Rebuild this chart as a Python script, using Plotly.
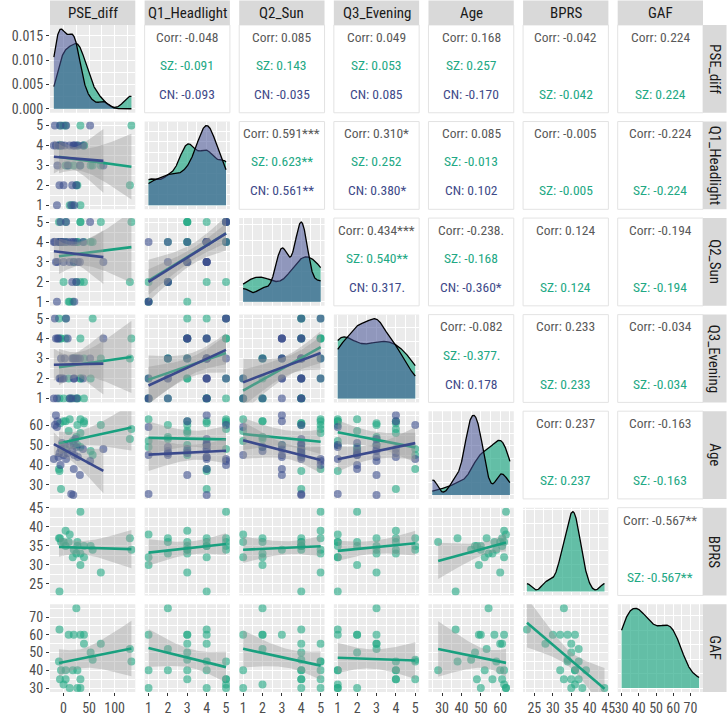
import numpy as np
import plotly.graph_objects as go
from plotly.subplots import make_subplots

FONT = "Roboto Condensed, Liberation Sans Narrow, Roboto, sans-serif"

var_names = ["PSE_diff", "Q1_Headlight", "Q2_Sun", "Q3_Evening", "Age", "BPRS", "GAF"]

# ---- SZ group (24 subjects) ----
sz_pse = [-8, 25, 73, 33, 10, 20, 40, 40, 130, 53, 57, 133, -9, 18, 4, 27, 33, -7, 4, 0, 12, 27, 33, -5]
sz_q1 = [4, 2, 3, 1, 3, 3, 4, 4, 2, 3, 3, 5, 4, 1, 3, 2, 3, 5, 5, 5, 1, 4, 5, 4]
sz_q2 = [4, 2, 5, 2, 1, 3, 2, 4, 2, 4, 4, 5, 5, 1, 5, 4, 5, 4, 4, 2, 1, 4, 5, 4]
sz_q3 = [1, 3, 3, 2, 2, 3, 1, 3, 3, 2, 5, 4, 5, 1, 4, 1, 4, 4, 5, 1, 1, 1, 2, 4]
sz_age = [37, 54, 60, 49, 57, 50, 62, 61, 53, 47, 45, 58, 38, 52, 62, 60, 56, 61, 48, 62, 63, 50, 63, 28]
sz_bprs = [23, 33, 28, 30, 36, 34, 32, 35, 37, 35, 34, 34, 37, 32, 39, 36, 33, 37, 35, 36, 38, 35, 44, 36]
sz_gaf = [63, 75, 55, 60, 60, 60, 60, 55, 52, 50, 46, 45, 45, 40, 40, 40, 35, 35, 35, 32, 30, 30, 30, 40]

# ---- CN group (27 subjects, no BPRS / GAF) ----
cn_pse = [-19, -17, -15, -13, -12, -10, -8, -6, -5, -3, 0, 2, 5, 8, 12, 15, 17, 19, 20, 21, 23, 25, 28, 32, 38, 52, 78]
cn_q1 = [4, 5, 4, 1, 3, 4, 2, 5, 4, 4, 2, 4, 5, 3, 4, 1, 2, 4, 4, 1, 4, 2, 4, 3, 4, 5, 3]
cn_q2 = [4, 4, 3, 1, 3, 4, 4, 5, 4, 4, 3, 4, 5, 4, 3, 4, 2, 4, 3, 1, 4, 2, 3, 3, 4, 5, 3]
cn_q3 = [1, 5, 4, 1, 4, 4, 2, 2, 3, 2, 2, 3, 5, 4, 1, 1, 3, 3, 2, 2, 3, 1, 3, 3, 2, 3, 4]
cn_age = [43, 60, 65, 59, 62, 44, 46, 40, 48, 51, 45, 50, 43, 46, 50, 25.5, 47, 25, 38, 45, 53, 49, 44, 35, 48, 42, 48]

# ---- tick labels ----
major_ticks = {
    "PSE_diff": [0, 50, 100],
    "Q1_Headlight": [1, 2, 3, 4, 5],
    "Q2_Sun": [1, 2, 3, 4, 5],
    "Q3_Evening": [1, 2, 3, 4, 5],
    "Age": [30, 40, 50, 60],
    "BPRS": [25, 30, 35, 40, 45],
    "GAF": [30, 40, 50, 60, 70],
}
minor_ticks = {
    "PSE_diff": [-25, 25, 75, 125],
    "Q1_Headlight": [1.5, 2.5, 3.5, 4.5],
    "Q2_Sun": [1.5, 2.5, 3.5, 4.5],
    "Q3_Evening": [1.5, 2.5, 3.5, 4.5],
    "Age": [25, 35, 45, 55, 65],
    "BPRS": [22.5, 27.5, 32.5, 37.5, 42.5],
    "GAF": [35, 45, 55, 65, 75],
}

# ---- correlation texts (upper triangle, row-major) ----
corr_total = ["-0.048", "0.085", "0.049", "0.168", "-0.042", "0.224",
              "0.591***", "0.310*", "0.085", "-0.005", "-0.224",
              "0.434***", "-0.238.", "0.124", "-0.194",
              "-0.082", "0.233", "-0.034",
              "0.237", "-0.163",
              "-0.567**"]
corr_sz = ["-0.091", "0.143", "0.053", "0.257", "-0.042", "0.224",
           "0.623**", "0.252", "-0.013", "-0.005", "-0.224",
           "0.540**", "-0.168", "0.124", "-0.194",
           "-0.377.", "0.233", "-0.034",
           "0.237", "-0.163",
           "-0.567**"]
corr_cn = ["-0.093", "-0.035", "0.085", "-0.170", None, None,
           "0.561**", "0.380*", "0.102", None, None,
           "0.317.", "-0.360*", None, None,
           "0.178", None, None,
           None, None,
           None]

nan_cn = [np.nan] * len(cn_pse)
data = {
    "SZ": dict(zip(var_names, [np.array(a, float) for a in
                               [sz_pse, sz_q1, sz_q2, sz_q3, sz_age, sz_bprs, sz_gaf]])),
    "CN": dict(zip(var_names, [np.array(a, float) for a in
                               [cn_pse, cn_q1, cn_q2, cn_q3, cn_age, nan_cn, nan_cn]])),
}
groups = ["SZ", "CN"]
pt_col = {"SZ": "rgba(34,168,132,0.6)", "CN": "rgba(59,76,140,0.6)"}
ln_col = {"SZ": "#19a07f", "CN": "#3b4a8c"}
fill_col = {"SZ": "rgba(34,168,132,0.68)", "CN": "rgba(70,82,150,0.55)"}
txt_col = {"SZ": "#22a884", "CN": "#3e4a89"}


def var_range(v):
    vals = np.concatenate([data[g][v] for g in groups])
    vals = vals[~np.isnan(vals)]
    lo, hi = vals.min(), vals.max()
    pad = 0.05 * (hi - lo)
    return [lo - pad, hi + pad], lo, hi


ranges = {v: var_range(v) for v in var_names}


def tq(df):
    z = 1.959964
    g1 = (z ** 3 + z) / 4
    g2 = (5 * z ** 5 + 16 * z ** 3 + 3 * z) / 96
    g3 = (3 * z ** 7 + 19 * z ** 5 + 17 * z ** 3 - 15 * z) / 384
    return z + g1 / df + g2 / df ** 2 + g3 / df ** 3


def kde(x, grid):
    x = x[~np.isnan(x)]
    n = len(x)
    sd = np.std(x, ddof=1)
    q75, q25 = np.percentile(x, [75, 25])
    lo = min(sd, (q75 - q25) / 1.34)
    if lo <= 0:
        lo = sd
    bw = 0.9 * lo * n ** -0.2
    d = np.exp(-0.5 * ((grid[:, None] - x[None, :]) / bw) ** 2).sum(axis=1)
    return d / (n * bw * np.sqrt(2 * np.pi))


def pretty_step(mx):
    raw = mx / 4
    p = 10 ** np.floor(np.log10(raw))
    for m in [1, 2, 2.5, 5, 10]:
        if m * p >= raw:
            return m * p
    return 10 * p


N = 7
fig = make_subplots(rows=N, cols=N, horizontal_spacing=9.5 / 666, vertical_spacing=9 / 684)

shapes = []
annotations = []
tick_font = dict(family=FONT, size=14, color="#4d4d4d")
TXT = 13.5


def refs(r, c):
    k = (r - 1) * N + c
    return ("x" if k == 1 else f"x{k}"), ("y" if k == 1 else f"y{k}")


def add_text(xr, yr, y, text, color):
    annotations.append(dict(xref=f"{xr} domain", yref=f"{yr} domain", x=0.5, y=y,
                            xanchor="center", yanchor="middle", text=text, showarrow=False,
                            font=dict(family=FONT, size=TXT, color=color)))


for r in range(1, N + 1):
    for c in range(1, N + 1):
        xr, yr = refs(r, c)
        vx = var_names[c - 1]
        vy = var_names[r - 1]
        if r < c:
            # upper: correlation text panel
            fig.add_trace(go.Scatter(x=[0.5], y=[0.5], mode="markers",
                                     marker=dict(size=1, opacity=0), hoverinfo="skip"),
                          row=r, col=c)
            shapes.append(dict(type="rect", xref=f"{xr} domain", yref=f"{yr} domain",
                               x0=0, x1=1, y0=0, y1=1, fillcolor="white",
                               line=dict(color="#e3e3e3", width=1), layer="below"))
            idx = sum(N - rr for rr in range(1, r)) + (c - r - 1)
            add_text(xr, yr, 0.865, "Corr: " + corr_total[idx], "#595959")
            if corr_cn[idx] is not None:
                add_text(xr, yr, 0.545, "SZ: " + corr_sz[idx], txt_col["SZ"])
                add_text(xr, yr, 0.215, "CN: " + corr_cn[idx], txt_col["CN"])
            else:
                add_text(xr, yr, 0.215, "SZ: " + corr_sz[idx], txt_col["SZ"])
            fig.update_xaxes(row=r, col=c, range=[0, 1], showgrid=False, zeroline=False,
                             showticklabels=False, ticks="", fixedrange=True)
            fig.update_yaxes(row=r, col=c, range=[0, 1], showgrid=False, zeroline=False,
                             showticklabels=False, ticks="", fixedrange=True)
            continue

        shapes.append(dict(type="rect", xref=f"{xr} domain", yref=f"{yr} domain",
                           x0=0, x1=1, y0=0, y1=1, fillcolor="#ebebeb",
                           line=dict(width=0), layer="below"))
        xrange_, xlo, xhi = ranges[vx]
        fig.update_xaxes(row=r, col=c, range=xrange_, tickmode="array", tickvals=major_ticks[vx],
                         showgrid=True, gridcolor="white", gridwidth=1.1, zeroline=False,
                         minor=dict(tickmode="array", tickvals=minor_ticks[vx], showgrid=True,
                                    gridcolor="white", gridwidth=0.5, ticks=""),
                         showticklabels=(r == N), ticks="outside" if r == N else "",
                         ticklen=3, tickcolor="#333333", tickwidth=1, tickfont=tick_font,
                         showline=False)

        if r == c:
            grid = np.linspace(xlo, xhi, 512)
            maxd = 0
            for g in groups:
                vals = data[g][vx]
                if np.all(np.isnan(vals)):
                    continue
                d = kde(vals, grid)
                maxd = max(maxd, d.max())
                fig.add_trace(go.Scatter(x=grid, y=d, mode="lines", fill="tozeroy",
                                         fillcolor=fill_col[g], line=dict(color="black", width=1.3),
                                         hoverinfo="skip"), row=r, col=c)
            yrng = [-0.05 * maxd, 1.05 * maxd]
            if r == 1:
                step = 0.005
                fmt = ".3f"
            else:
                step = pretty_step(maxd)
                fmt = ""
            tv = list(np.arange(0, maxd * 1.1, step))
            mv = [t + step / 2 for t in tv] + [-step / 2]
            fig.update_yaxes(row=r, col=c, range=yrng, tickmode="array", tickvals=tv,
                             tickformat=fmt,
                             showgrid=True, gridcolor="white", gridwidth=1.1, zeroline=False,
                             minor=dict(tickmode="array", tickvals=mv, showgrid=True,
                                        gridcolor="white", gridwidth=0.5, ticks=""),
                             showticklabels=(c == 1), ticks="outside" if c == 1 else "",
                             ticklen=3, tickcolor="#333333", tickwidth=1, tickfont=tick_font)
            continue

        # lower: scatter + lm smooth
        yrange_, ylo, yhi = ranges[vy]
        fig.update_yaxes(row=r, col=c, range=yrange_, tickmode="array", tickvals=major_ticks[vy],
                         showgrid=True, gridcolor="white", gridwidth=1.1, zeroline=False,
                         minor=dict(tickmode="array", tickvals=minor_ticks[vy], showgrid=True,
                                    gridcolor="white", gridwidth=0.5, ticks=""),
                         showticklabels=(c == 1), ticks="outside" if c == 1 else "",
                         ticklen=3, tickcolor="#333333", tickwidth=1, tickfont=tick_font)
        for g in groups:
            x = data[g][vx]
            y = data[g][vy]
            m = ~np.isnan(x) & ~np.isnan(y)
            if m.sum() < 3:
                continue
            fig.add_trace(go.Scatter(x=x[m], y=y[m], mode="markers",
                                     marker=dict(size=8, color=pt_col[g], line=dict(width=0)),
                                     hoverinfo="skip"), row=r, col=c)
        for g in groups:
            x = data[g][vx]
            y = data[g][vy]
            m = ~np.isnan(x) & ~np.isnan(y)
            if m.sum() < 3:
                continue
            xs, ys = x[m], y[m]
            n = len(xs)
            xb = xs.mean()
            sxx = ((xs - xb) ** 2).sum()
            b = ((xs - xb) * (ys - ys.mean())).sum() / sxx
            a = ys.mean() - b * xb
            resid = ys - (a + b * xs)
            s = np.sqrt((resid ** 2).sum() / (n - 2))
            gx = np.linspace(xs.min(), xs.max(), 80)
            fit = a + b * gx
            se = s * np.sqrt(1 / n + (gx - xb) ** 2 / sxx)
            t = tq(n - 2)
            up = fit + t * se
            lo = fit - t * se
            fig.add_trace(go.Scatter(x=np.concatenate([gx, gx[::-1]]),
                                     y=np.concatenate([up, lo[::-1]]),
                                     mode="lines", fill="toself", fillcolor="rgba(153,153,153,0.4)",
                                     line=dict(width=0), hoverinfo="skip"), row=r, col=c)
            fig.add_trace(go.Scatter(x=gx, y=fit, mode="lines",
                                     line=dict(color=ln_col[g], width=2.6), hoverinfo="skip"),
                          row=r, col=c)

# strips
strip_top = 1 + 25 / 684
strip_right = 1 + 24 / 666
for i, v in enumerate(var_names):
    xr, _ = refs(1, i + 1)
    shapes.append(dict(type="rect", xref=f"{xr} domain", yref="paper", x0=0, x1=1,
                       y0=1, y1=strip_top, fillcolor="#d9d9d9", line=dict(width=0), layer="below"))
    annotations.append(dict(xref=f"{xr} domain", yref="paper", x=0.5, y=(1 + strip_top) / 2,
                            text=v, showarrow=False, yanchor="middle", xanchor="center",
                            font=dict(family=FONT, size=15, color="#1a1a1a")))
    _, yr = refs(i + 1, N)
    shapes.append(dict(type="rect", xref="paper", yref=f"{yr} domain", x0=1, x1=strip_right,
                       y0=0, y1=1, fillcolor="#d9d9d9", line=dict(width=0), layer="below"))
    annotations.append(dict(xref="paper", yref=f"{yr} domain", x=(1 + strip_right) / 2, y=0.5,
                            text=v, showarrow=False, textangle=90, xanchor="center",
                            yanchor="middle",
                            font=dict(family=FONT, size=15, color="#1a1a1a")))

fig.update_layout(width=727, height=728, margin=dict(l=37, r=24, t=25, b=19),
                  showlegend=False, plot_bgcolor="white", paper_bgcolor="white",
                  shapes=shapes, annotations=annotations, font=dict(family=FONT))

fig.write_html("out.html")
